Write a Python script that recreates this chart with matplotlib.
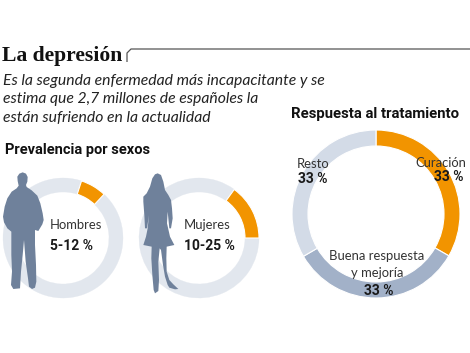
import matplotlib
matplotlib.use("Agg")
import matplotlib.pyplot as plt
from matplotlib.patches import Polygon

W, H = 470, 353
title = "La depresión"
intro = ["Es la segunda enfermedad más incapacitante y se",
         "estima que 2,7 millones de españoles la",
         "están sufriendo en la actualidad"]
sub_left = "Prevalencia por sexos"
sub_right = "Respuesta al tratamiento"
men_shares = [5, 7, 88]
women_shares = [10, 15, 75]
treatment_shares = [33.3, 33.3, 33.4]
ORANGE = "#F29400"
LIGHT = "#E2E7EE"
MID = "#D3DBE7"
BLUE = "#A2B1C8"
FIG = "#6F819B"

fig = plt.figure(figsize=(4.7, 3.53), dpi=100, facecolor="white")
ax = fig.add_axes([0, 0, 1, 1])

def donut(vals, cols, c, r, w):
    wedges, _ = ax.pie(vals, colors=cols, center=c, radius=r, startangle=-90, counterclock=True,
                       wedgeprops=dict(width=w, edgecolor="white", linewidth=0.8), frame=False)
    for wd, col in zip(wedges, cols):
        if col == LIGHT:
            wd.set_edgecolor(LIGHT); wd.set_linewidth(0.2); wd.set_zorder(1)
        else:
            wd.set_zorder(2)

ax.set_xlim(0, W); ax.set_ylim(H, 0)
donut(men_shares, [LIGHT, ORANGE, LIGHT], (63, 238), 60, 14)
donut(women_shares, [LIGHT, ORANGE, LIGHT], (199, 238), 60, 14)
donut(treatment_shares, [ORANGE, BLUE, MID], (376, 214), 84, 16)
ax.set_xlim(0, W); ax.set_ylim(H, 0); ax.set_aspect("auto"); ax.axis("off")

man_z = [(68,22),(78,26),(83,36),(82,50),(78,60),(80,66),(95,76),(112,92),(121,115),(128,145),(131,165),(127,178),
         (115,198),(105,195),(105,240),(108,300),(109,350),(105,368),(96,372),(87,365),(84,340),(77,290),(72,225),
         (68,270),(63,320),(60,370),(40,372),(33,360),(36,320),(34,270),(34,200),(22,190),(12,172),(9,155),(14,125),
         (22,100),(35,80),(50,70),(56,62),(53,48),(52,35),(58,26)]
woman_z = [(68,25),(78,30),(85,50),(90,75),(100,90),(108,105),(111,130),(113,160),(108,190),(103,190),(98,140),
           (96,175),(105,215),(118,240),(95,245),(94,280),(95,320),(103,345),(115,358),(130,372),(120,373),(103,368),
           (98,360),(90,335),(84,300),(78,255),(74,250),(70,290),(72,345),(70,378),(60,385),(56,375),(52,330),(49,280),
           (50,245),(25,240),(33,215),(38,190),(42,150),(36,190),(30,190),(28,150),(25,110),(25,95),(35,85),(45,65),
           (52,40),(60,28)]
ax.add_patch(Polygon([(x/3, 165 + y/3) for x, y in man_z], closed=True, fc=FIG, ec="none", zorder=5))
ax.add_patch(Polygon([(135 + x/3, 165 + y/3) for x, y in woman_z], closed=True, fc=FIG, ec="none", zorder=5))

ax.text(2, 56, title, family="Liberation Serif", weight="bold", fontsize=15.6, color="#111", va="center")
ax.plot([127, 127, 131, 470], [62, 53, 49, 49], color="#555", lw=0.9, solid_capstyle="butt")
for i, l in enumerate(intro):
    ax.text(3, 81 + 18.3*i, l, family="Lato", style="italic", fontsize=11.3, color="#222", va="center")
ax.text(5, 150, sub_left, family="Roboto", weight="bold", fontsize=10.5, color="#111", va="center")
ax.text(291, 114, sub_right, family="Roboto", weight="bold", fontsize=10.7, color="#111", va="center")

def lab(x, y, s, bold=False, ha="left"):
    ax.text(x, y, s, family="Roboto" if bold else "Lato", weight="bold" if bold else "normal",
            fontsize=10 if bold else 9.4, color="#1a1a1a" if bold else "#333", ha=ha, va="center", zorder=6)
lab(50, 225, "Hombres"); lab(50, 246, "5-12 %", True)
lab(184, 225, "Mujeres"); lab(184, 246, "10-25 %", True)
lab(466, 163, "Curación", ha="right"); lab(464, 177, "33 %", True, ha="right")
lab(297, 164, "Resto"); lab(298, 179, "33 %", True)
lab(377, 256, "Buena respuesta", ha="center"); lab(377, 273, "y mejoría", ha="center")
lab(379, 291, "33 %", True, ha="center")

fig.savefig("out.png", dpi=100)
